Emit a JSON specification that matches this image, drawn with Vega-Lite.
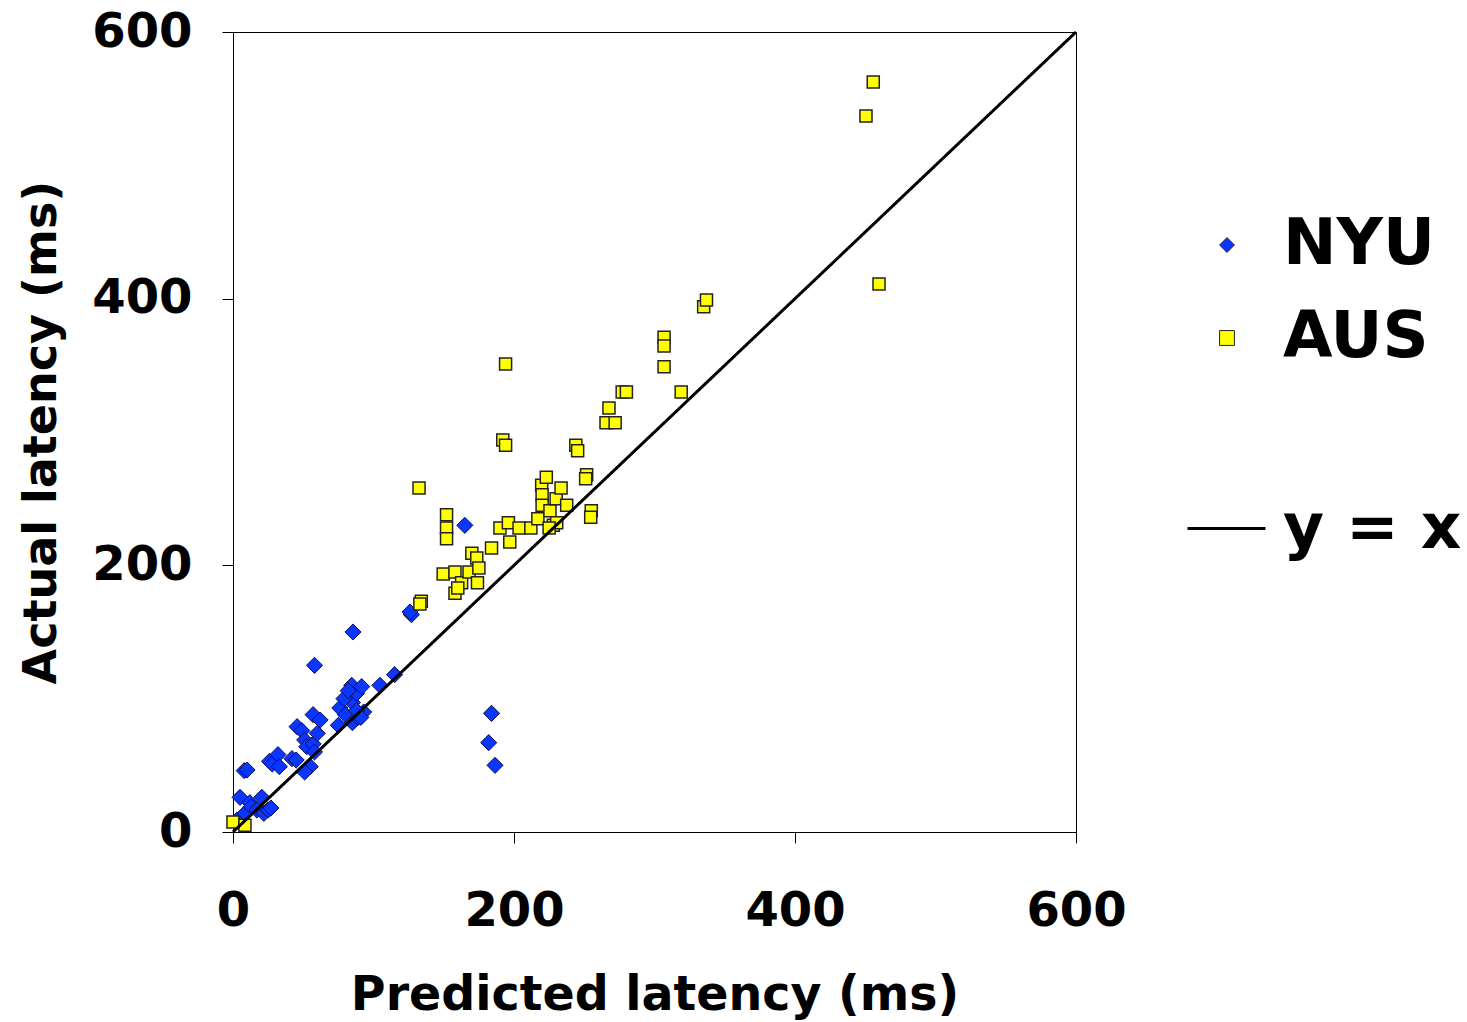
{
  "$schema": "https://vega.github.io/schema/vega-lite/v6.json",
  "autosize": {"type": "none"},
  "padding": {"left": 233, "top": 32, "right": 391, "bottom": 190},
  "width": 843,
  "height": 800,
  "background": "white",
  "config": {
    "view": {"stroke": "black", "strokeWidth": 1},
    "font": "DejaVu Sans",
    "axis": {
      "labelFont": "DejaVu Sans", "labelFontWeight": "bold", "labelFontSize": 48, "labelColor": "black", "labelFlush": false,
      "titleFont": "DejaVu Sans", "titleFontWeight": "bold", "titleFontSize": 47.5, "titleColor": "black",
      "domainColor": "black", "tickColor": "black", "tickSize": 11, "grid": false
    }
  },
  "datasets": {
    "nyu": [
      {"series":"NYU","pred":3,"act":9},{"series":"NYU","pred":5,"act":26},{"series":"NYU","pred":8.5,"act":14},{"series":"NYU","pred":8,"act":46},{"series":"NYU","pred":10,"act":46.5},
      {"series":"NYU","pred":12,"act":22},{"series":"NYU","pred":13,"act":19},{"series":"NYU","pred":17,"act":16.5},{"series":"NYU","pred":20.5,"act":26},{"series":"NYU","pred":22,"act":14},
      {"series":"NYU","pred":25,"act":16.5},{"series":"NYU","pred":27,"act":18},{"series":"NYU","pred":26,"act":53},{"series":"NYU","pred":28,"act":51},{"series":"NYU","pred":32,"act":58},
      {"series":"NYU","pred":33,"act":49},{"series":"NYU","pred":42,"act":55},{"series":"NYU","pred":45,"act":54},{"series":"NYU","pred":45.6,"act":79},{"series":"NYU","pred":49,"act":76},
      {"series":"NYU","pred":51,"act":69},{"series":"NYU","pred":52.5,"act":64},{"series":"NYU","pred":55,"act":49},{"series":"NYU","pred":51,"act":45},{"series":"NYU","pred":57,"act":66},
      {"series":"NYU","pred":57,"act":88},{"series":"NYU","pred":60,"act":74},{"series":"NYU","pred":62,"act":84},{"series":"NYU","pred":58,"act":125},{"series":"NYU","pred":58,"act":60},
      {"series":"NYU","pred":76,"act":93},{"series":"NYU","pred":75,"act":80},{"series":"NYU","pred":80,"act":88},{"series":"NYU","pred":84.5,"act":110},{"series":"NYU","pred":85,"act":97},
      {"series":"NYU","pred":85,"act":82},{"series":"NYU","pred":88,"act":104},{"series":"NYU","pred":89,"act":86},{"series":"NYU","pred":91.6,"act":109},{"series":"NYU","pred":93,"act":90},
      {"series":"NYU","pred":104.6,"act":110},{"series":"NYU","pred":115,"act":118},{"series":"NYU","pred":85.4,"act":150},{"series":"NYU","pred":127,"act":163},{"series":"NYU","pred":126,"act":165},
      {"series":"NYU","pred":165,"act":230},{"series":"NYU","pred":184,"act":89},{"series":"NYU","pred":182,"act":67},{"series":"NYU","pred":186.5,"act":50},{"series":"NYU","pred":79,"act":100},
      {"series":"NYU","pred":82,"act":106},{"series":"NYU","pred":88,"act":91},{"series":"NYU","pred":91,"act":86}
    ],
    "aus": [
      {"series":"AUS","pred":0,"act":7.5},{"series":"AUS","pred":8.5,"act":5},{"series":"AUS","pred":132.4,"act":258},{"series":"AUS","pred":134,"act":173},{"series":"AUS","pred":133,"act":171},
      {"series":"AUS","pred":149.6,"act":193.5},{"series":"AUS","pred":152,"act":238},{"series":"AUS","pred":152,"act":228},{"series":"AUS","pred":152,"act":220},{"series":"AUS","pred":158,"act":195},
      {"series":"AUS","pred":158,"act":179},{"series":"AUS","pred":162.7,"act":187},{"series":"AUS","pred":160,"act":183},{"series":"AUS","pred":168,"act":195},{"series":"AUS","pred":170,"act":209},
      {"series":"AUS","pred":173.5,"act":205.5},{"series":"AUS","pred":174,"act":187},{"series":"AUS","pred":175,"act":198},{"series":"AUS","pred":184,"act":213},{"series":"AUS","pred":190,"act":228},
      {"series":"AUS","pred":192,"act":294},{"series":"AUS","pred":194,"act":290},{"series":"AUS","pred":194,"act":351},{"series":"AUS","pred":196,"act":232},{"series":"AUS","pred":197,"act":217.5},
      {"series":"AUS","pred":203.6,"act":228},{"series":"AUS","pred":212,"act":228},{"series":"AUS","pred":217,"act":235},{"series":"AUS","pred":219.7,"act":260},{"series":"AUS","pred":220,"act":253},
      {"series":"AUS","pred":220,"act":245},{"series":"AUS","pred":223,"act":266},{"series":"AUS","pred":225.6,"act":241},{"series":"AUS","pred":228,"act":230},{"series":"AUS","pred":230,"act":250},
      {"series":"AUS","pred":230.4,"act":232},{"series":"AUS","pred":233.5,"act":258},{"series":"AUS","pred":237.5,"act":245},{"series":"AUS","pred":225,"act":228},{"series":"AUS","pred":244,"act":290},
      {"series":"AUS","pred":245.3,"act":286},{"series":"AUS","pred":251.7,"act":268},{"series":"AUS","pred":251,"act":265},{"series":"AUS","pred":255,"act":241},{"series":"AUS","pred":254.6,"act":236},
      {"series":"AUS","pred":265.5,"act":307},{"series":"AUS","pred":272,"act":307},{"series":"AUS","pred":267.6,"act":318},{"series":"AUS","pred":277,"act":330},{"series":"AUS","pred":280,"act":330},
      {"series":"AUS","pred":306.8,"act":371},{"series":"AUS","pred":306.8,"act":364.5},{"series":"AUS","pred":306.8,"act":349},{"series":"AUS","pred":319,"act":330},{"series":"AUS","pred":335,"act":394},
      {"series":"AUS","pred":337,"act":399},{"series":"AUS","pred":450.5,"act":537},{"series":"AUS","pred":455.7,"act":562.5},{"series":"AUS","pred":459.8,"act":411}
    ],
    "line": [
      {"fit":"y = x","pred":0,"act":0},{"fit":"y = x","pred":600,"act":600}
    ]
  },
  "encoding": {
    "x": {"field": "pred", "type": "quantitative",
      "scale": {"domain": [0, 600], "nice": false, "zero": false},
      "axis": {"values": [0, 200, 400, 600], "title": "Predicted latency (ms)", "labelPadding": 44, "titlePadding": 36}},
    "y": {"field": "act", "type": "quantitative",
      "scale": {"domain": [0, 600], "nice": false, "zero": false},
      "axis": {"values": [0, 200, 400, 600], "title": "Actual latency (ms)", "titleFontSize": 46, "labelPadding": 30, "titlePadding": 26}}
  },
  "layer": [
    {
      "data": {"name": "nyu"},
      "mark": {"type": "point", "filled": true, "size": 260, "stroke": "#101050", "strokeWidth": 1, "opacity": 1},
      "encoding": {
        "color": {"field": "series", "type": "nominal", "scale": {"domain": ["NYU", "AUS"], "range": ["#0a36ff", "#ffff00"]},
          "legend": {"orient": "none", "legendX": 962, "legendY": 181, "title": null, "padding": 0,
            "labelFont": "DejaVu Sans", "labelFontWeight": "bold", "labelFontSize": 64, "labelColor": "black", "labelLimit": 500,
            "labelOffset": 24, "rowPadding": 29, "symbolSize": 220, "symbolStrokeColor": "#222222", "symbolStrokeWidth": 1,
            "encode": {"symbols": {"update": {"size": {"signal": "datum.value === 'NYU' ? 290 : 170"}}}}}},
        "shape": {"field": "series", "type": "nominal", "scale": {"domain": ["NYU", "AUS"], "range": ["diamond", "square"]}}
      }
    },
    {
      "data": {"name": "aus"},
      "mark": {"type": "point", "filled": true, "size": 145, "stroke": "#222222", "strokeWidth": 1.5, "opacity": 1},
      "encoding": {
        "color": {"field": "series", "type": "nominal"},
        "shape": {"field": "series", "type": "nominal"}
      }
    },
    {
      "data": {"name": "line"},
      "mark": {"type": "line", "color": "black", "strokeWidth": 3},
      "encoding": {
        "strokeDash": {"field": "fit", "type": "nominal", "scale": {"domain": ["y = x"], "range": [[1, 0]]},
          "legend": {"orient": "none", "legendX": 953, "legendY": 456, "title": null, "padding": 0,
            "labelFont": "DejaVu Sans", "labelFontWeight": "bold", "labelFontSize": 63, "labelColor": "black", "labelLimit": 500,
            "labelOffset": 16, "symbolType": "stroke", "symbolSize": 6084, "symbolStrokeColor": "black", "symbolStrokeWidth": 3}}
      }
    }
  ]
}
